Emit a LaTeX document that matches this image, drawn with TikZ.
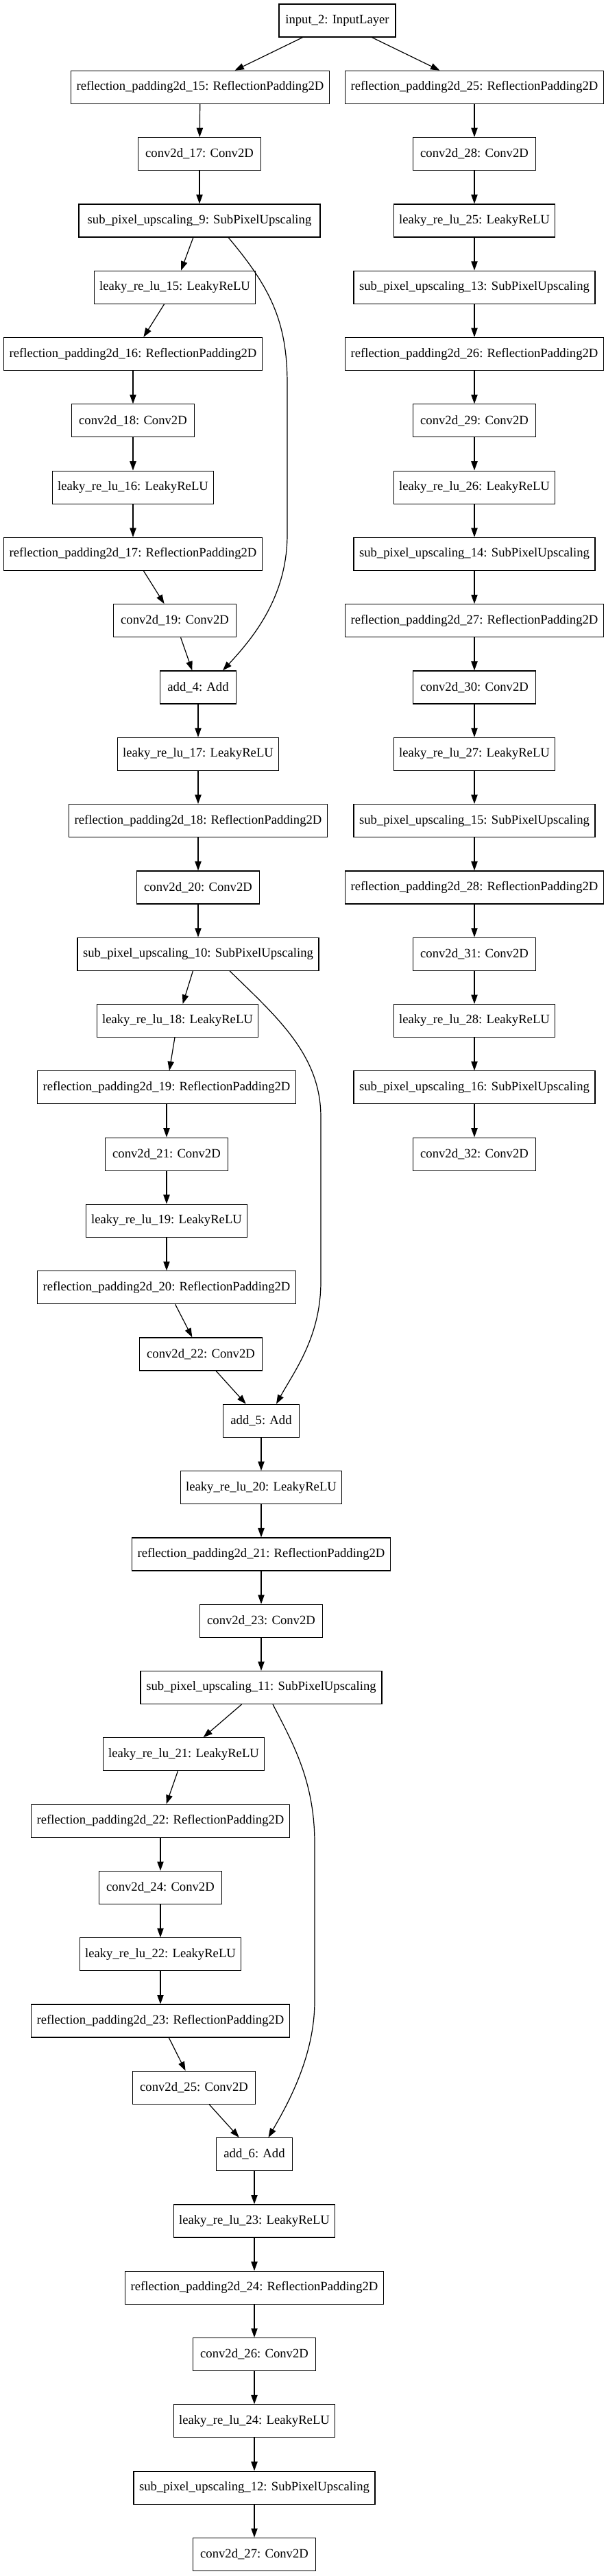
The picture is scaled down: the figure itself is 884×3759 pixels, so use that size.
\documentclass[tikz,border=0pt]{standalone}
\usepackage{fontspec}
\setmainfont{Liberation Serif}
\usetikzlibrary{arrows.meta,calc}
\tikzset{
  layerbox/.style={draw=black, line width=0.9pt, rectangle, minimum height=36pt, inner sep=0pt, font=\fontsize{14}{16}\selectfont},
  rpbox/.style={layerbox, minimum width=282.75pt},
  convbox/.style={layerbox, minimum width=134.25pt},
  lrbox/.style={layerbox, minimum width=176.25pt},
  spubox/.style={layerbox, minimum width=264pt},
  addbox/.style={layerbox, minimum width=83.25pt},
  inbox/.style={layerbox, minimum width=127.5pt},
  arr/.style={draw=black, line width=0.9pt, -{Triangle[length=10pt,width=7pt]}}
}
\begin{document}
\begin{tikzpicture}[x=0.75pt,y=-0.75pt]
\useasboundingbox (0,0) rectangle (884,3759);
% left column
\node[inbox]  (in2)    at (492,30)     {input\_2: InputLayer};
\node[rpbox]  (rp15)   at (292,127.3)  {reflection\_padding2d\_15: ReflectionPadding2D};
\node[convbox](c17)    at (291,224.6)  {conv2d\_17: Conv2D};
\node[spubox] (spu9)   at (291,321.9)  {sub\_pixel\_upscaling\_9: SubPixelUpscaling};
\node[lrbox]  (lr15)   at (255,419.2)  {leaky\_re\_lu\_15: LeakyReLU};
\node[rpbox]  (rp16)   at (194,516.5)  {reflection\_padding2d\_16: ReflectionPadding2D};
\node[convbox](c18)    at (194,613.8)  {conv2d\_18: Conv2D};
\node[lrbox]  (lr16)   at (194,711.1)  {leaky\_re\_lu\_16: LeakyReLU};
\node[rpbox]  (rp17)   at (194,808.4)  {reflection\_padding2d\_17: ReflectionPadding2D};
\node[convbox](c19)    at (255,905.7)  {conv2d\_19: Conv2D};
\node[addbox] (add4)   at (289,1003)   {add\_4: Add};
\node[lrbox]  (lr17)   at (289,1100.3) {leaky\_re\_lu\_17: LeakyReLU};
\node[rpbox]  (rp18)   at (289,1197.6) {reflection\_padding2d\_18: ReflectionPadding2D};
\node[convbox](c20)    at (289,1294.9) {conv2d\_20: Conv2D};
\node[spubox] (spu10)  at (289,1392.2) {sub\_pixel\_upscaling\_10: SubPixelUpscaling};
\node[lrbox]  (lr18)   at (259,1489.5) {leaky\_re\_lu\_18: LeakyReLU};
\node[rpbox]  (rp19)   at (243,1586.8) {reflection\_padding2d\_19: ReflectionPadding2D};
\node[convbox](c21)    at (243,1684.1) {conv2d\_21: Conv2D};
\node[lrbox]  (lr19)   at (243,1781.4) {leaky\_re\_lu\_19: LeakyReLU};
\node[rpbox]  (rp20)   at (243,1878.7) {reflection\_padding2d\_20: ReflectionPadding2D};
\node[convbox](c22)    at (293,1976)   {conv2d\_22: Conv2D};
\node[addbox] (add5)   at (381,2073.3) {add\_5: Add};
\node[lrbox]  (lr20)   at (381,2170.6) {leaky\_re\_lu\_20: LeakyReLU};
\node[rpbox]  (rp21)   at (381,2267.9) {reflection\_padding2d\_21: ReflectionPadding2D};
\node[convbox](c23)    at (381,2365.2) {conv2d\_23: Conv2D};
\node[spubox] (spu11)  at (381,2462.5) {sub\_pixel\_upscaling\_11: SubPixelUpscaling};
\node[lrbox]  (lr21)   at (268,2559.8) {leaky\_re\_lu\_21: LeakyReLU};
\node[rpbox]  (rp22)   at (234,2657.1) {reflection\_padding2d\_22: ReflectionPadding2D};
\node[convbox](c24)    at (234,2754.4) {conv2d\_24: Conv2D};
\node[lrbox]  (lr22)   at (234,2851.7) {leaky\_re\_lu\_22: LeakyReLU};
\node[rpbox]  (rp23)   at (234,2949)   {reflection\_padding2d\_23: ReflectionPadding2D};
\node[convbox](c25)    at (283,3046.3) {conv2d\_25: Conv2D};
\node[addbox] (add6)   at (371,3143.6) {add\_6: Add};
\node[lrbox]  (lr23)   at (371,3240.9) {leaky\_re\_lu\_23: LeakyReLU};
\node[rpbox]  (rp24)   at (371,3338.2) {reflection\_padding2d\_24: ReflectionPadding2D};
\node[convbox](c26)    at (371,3435.5) {conv2d\_26: Conv2D};
\node[lrbox]  (lr24)   at (371,3532.8) {leaky\_re\_lu\_24: LeakyReLU};
\node[spubox] (spu12)  at (371,3630.1) {sub\_pixel\_upscaling\_12: SubPixelUpscaling};
\node[convbox](c27)    at (371,3727.4) {conv2d\_27: Conv2D};
% right column
\node[rpbox]  (rp25)   at (692,127.3)  {reflection\_padding2d\_25: ReflectionPadding2D};
\node[convbox](c28)    at (692,224.6)  {conv2d\_28: Conv2D};
\node[lrbox]  (lr25)   at (692,321.9)  {leaky\_re\_lu\_25: LeakyReLU};
\node[spubox] (spu13)  at (692,419.2)  {sub\_pixel\_upscaling\_13: SubPixelUpscaling};
\node[rpbox]  (rp26)   at (692,516.5)  {reflection\_padding2d\_26: ReflectionPadding2D};
\node[convbox](c29)    at (692,613.8)  {conv2d\_29: Conv2D};
\node[lrbox]  (lr26)   at (692,711.1)  {leaky\_re\_lu\_26: LeakyReLU};
\node[spubox] (spu14)  at (692,808.4)  {sub\_pixel\_upscaling\_14: SubPixelUpscaling};
\node[rpbox]  (rp27)   at (692,905.7)  {reflection\_padding2d\_27: ReflectionPadding2D};
\node[convbox](c30)    at (692,1003)   {conv2d\_30: Conv2D};
\node[lrbox]  (lr27)   at (692,1100.3) {leaky\_re\_lu\_27: LeakyReLU};
\node[spubox] (spu15)  at (692,1197.6) {sub\_pixel\_upscaling\_15: SubPixelUpscaling};
\node[rpbox]  (rp28)   at (692,1294.9) {reflection\_padding2d\_28: ReflectionPadding2D};
\node[convbox](c31)    at (692,1392.2) {conv2d\_31: Conv2D};
\node[lrbox]  (lr28)   at (692,1489.5) {leaky\_re\_lu\_28: LeakyReLU};
\node[spubox] (spu16)  at (692,1586.8) {sub\_pixel\_upscaling\_16: SubPixelUpscaling};
\node[convbox](c32)    at (692,1684.1) {conv2d\_32: Conv2D};
% straight edges
\foreach \a/\b in {in2/rp15,rp15/c17,c17/spu9,spu9/lr15,lr15/rp16,rp16/c18,c18/lr16,lr16/rp17,rp17/c19,c19/add4,
  add4/lr17,lr17/rp18,rp18/c20,c20/spu10,spu10/lr18,lr18/rp19,rp19/c21,c21/lr19,lr19/rp20,rp20/c22,c22/add5,
  add5/lr20,lr20/rp21,rp21/c23,c23/spu11,spu11/lr21,lr21/rp22,rp22/c24,c24/lr22,lr22/rp23,rp23/c25,c25/add6,
  add6/lr23,lr23/rp24,rp24/c26,c26/lr24,lr24/spu12,spu12/c27,
  in2/rp25,rp25/c28,c28/lr25,lr25/spu13,spu13/rp26,rp26/c29,c29/lr26,lr26/spu14,spu14/rp27,rp27/c30,c30/lr27,
  lr27/spu15,spu15/rp28,rp28/c31,c31/lr28,lr28/spu16,spu16/c32}
  \draw[arr] (\a) -- (\b);
% skip connections
\draw[arr] ($(spu9.south)+(42,0)$) .. controls (395,420) and (419,470) .. (419,560)
  -- (419,780) .. controls (419,870) and (370,930) .. ($(add4.north)+(36,0)$);
\draw[arr] ($(spu10.south)+(46,0)$) .. controls (405,1485) and (468,1540) .. (468,1630)
  -- (468,1870) .. controls (468,1950) and (430,2000) .. ($(add5.north)+(22,0)$);
\draw[arr] ($(spu11.south)+(17,0)$) .. controls (428,2545) and (459,2600) .. (459,2690)
  -- (459,2920) .. controls (459,3000) and (420,3070) .. ($(add6.north)+(20.5,0)$);
\end{tikzpicture}
\end{document}
